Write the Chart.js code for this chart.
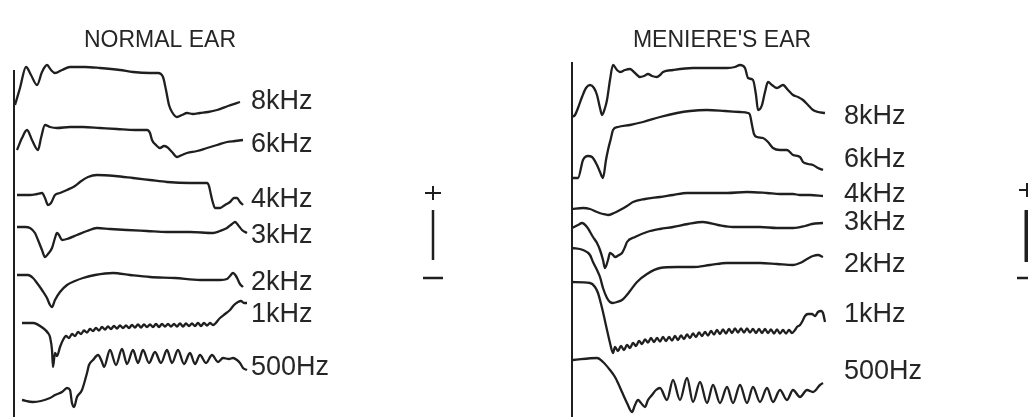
<!DOCTYPE html>
<html>
<head>
<meta charset="utf-8">
<script src="https://cdn.jsdelivr.net/npm/chart.js@4.4.1/dist/chart.umd.min.js"></script>
<style>
  html, body { margin: 0; padding: 0; background: #fff; }
  #wrap { position: relative; width: 1028px; height: 417px; overflow: hidden; }
  canvas { position: absolute; top: 0; }
</style>
</head>
<body>
<div id="wrap">
  <canvas id="normalChart" width="558" height="417" style="left:0"></canvas>
  <canvas id="meniereChart" width="470" height="417" style="left:558px"></canvas>
</div>
<script>
const freqLabels = ['8kHz', '6kHz', '4kHz', '3kHz', '2kHz', '1kHz', '500Hz'];

// each trace: [time (samples after onset), amplitude (+ up)]
const normal8k = [[1,0],[6,17],[12,38],[17,30],[23,20],[28,33],[33,40],[37,35],[41,32],[48,35],[56,38],[71,38],[86,37],[106,35],[119,33],[136,32],[144,32],[149,28],[152,15],[155,0],[158,-7],[163,-12],[168,-10],[173,-8],[179,-9],[186,-8],[194,-7],[203,-5],[214,-1],[226,3]];
const normal6k = [[3,0],[8,12],[13,20],[18,10],[24,0],[27,12],[31,25],[36,23],[43,22],[56,23],[69,23],[86,22],[103,21],[121,20],[133,20],[136,17],[138,10],[142,5],[146,2],[150,4],[153,3],[158,-2],[163,-7],[168,-5],[173,-3],[183,-1],[193,2],[203,5],[213,8],[221,9],[229,10]];
const normal4k = [[3,0],[16,0],[23,1],[28,2],[31,-3],[34,-10],[37,-8],[41,0],[46,2],[53,5],[61,9],[66,13],[74,18],[83,20],[101,19],[119,17],[136,15],[153,13],[176,12],[193,12],[195,9],[197,0],[199,-8],[201,-13],[206,-13],[211,-10],[216,-7],[220,-3],[223,-3],[226,-7],[229,-10]];
const normal3k = [[3,0],[11,0],[16,-1],[21,-6],[24,-13],[28,-23],[31,-30],[34,-27],[38,-21],[41,-11],[43,-6],[45,-8],[48,-13],[53,-12],[63,-8],[73,-4],[83,-1],[96,-2],[113,-3],[133,-4],[153,-5],[176,-5],[199,-6],[206,-4],[213,-1],[218,3],[221,5],[224,2],[228,-3],[233,-6]];
const normal2k = [[3,0],[14,0],[19,-3],[23,-8],[28,-15],[33,-23],[36,-30],[38,-32],[41,-25],[46,-17],[53,-10],[61,-6],[69,-3],[81,0],[99,2],[116,0],[136,-2],[161,-3],[186,-5],[206,-5],[213,-4],[216,-1],[219,2],[222,-1],[224,-5],[226,-9],[229,-12]];
const normal1k = [[8,0],[19,0],[29,-5],[34,-10],[36,-14],[38,-27],[39,-44],[41,-30],[43,-33],[46,-24],
  [49,-17],[52,-13],[55,-15],[58,-11],[61,-13],[64,-9],[67,-11],[70,-7.5],[73,-9.5],[76,-6],[79,-8],[82,-5],[85,-7.5],[88,-4],[91,-6.5],[94,-3.5],[97,-6],[100,-3],[103,-5.5],[106,-2.5],[109,-5],[112,-2.5],[115,-5],[118,-2],[121,-4.5],[124,-1.5],[127,-4.5],[130,-1.5],[133,-4],[136,-1.5],[139,-4],[142,-1],[145,-4],[148,-1],[151,-3.5],[154,-1],[157,-3.5],[160,-1],[163,-3.5],[166,-0.5],[169,-3.5],[172,-0.5],[175,-3],[178,-0.5],[181,-3],[184,0],[187,-3],[190,0],[193,-2.5],[196,0],[199,-2],
  [206,5],[211,9],[216,13],[220,18],[224,21],[227,22],[230,20],[233,20]];
const normal500 = [[8,0],[19,-2],[36,2],[41,5],[48,8],[53,12],[56,10],[58,-3],[60,-7],[63,3],[68,10],[73,27],[75,35],[79,40],[84,45],[88,38],
  [90,33],[96,50],[102,35],[108,51],[113,36],[119,50],[124,37],[129,50],[135,37],[141,48],[147,37],[153,50],[158,37],[164,50],[170,36],[176,47],[181,36],[186,45],[192,37],[198,45],[204,38],[209,42],
  [215,41],[219,42],[223,40],[226,37],[229,32],[233,30]];

const meniere8k = [[0,0],[3,2],[6,9],[10,20],[14,29],[18,32],[22,29],[25,22],[28,9],[30,2],[33,9],[35,17],[38,37],[41,52],[45,47],[48,45],[53,47],[58,48],[63,44],[68,40],[72,41],[76,43],[80,41],[85,40],[88,42],[91,45],[101,47],[121,49],[138,49],[155,49],[163,50],[168,52],[173,49],[176,39],[181,37],[184,22],[186,7],[188,8],[190,12],[193,25],[196,35],[200,32],[205,29],[211,32],[216,27],[221,22],[226,20],[231,17],[236,12],[241,7],[246,5],[253,4]];
const meniere6k = [[0,0],[6,0],[11,18],[16,22],[20,21],[25,13],[28,6],[31,0],[34,18],[36,28],[39,40],[41,48],[46,51],[58,53],[71,56],[88,61],[105,65],[118,67],[135,68],[153,67],[168,66],[176,65],[178,63],[180,53],[182,44],[185,41],[191,40],[196,36],[201,30],[208,28],[215,28],[221,23],[228,21],[231,16],[236,14],[241,13],[246,10],[251,8]];
const meniere4k = [[0,0],[11,1],[18,0],[25,-3],[31,-5],[36,-6],[42,-4],[48,-1],[55,3],[61,7],[73,10],[88,12],[101,14],[115,16],[135,16],[155,16],[175,17],[195,16],[208,15],[221,15],[228,14],[238,14],[251,13]];
const meniere3k = [[0,0],[6,3],[10,5],[15,1],[21,-9],[25,-15],[28,-22],[31,-32],[33,-40],[36,-32],[38,-25],[41,-27],[43,-29],[47,-27],[50,-25],[53,-19],[55,-14],[63,-9],[75,-4],[88,-1],[101,1],[116,4],[131,6],[146,3],[161,1],[176,1],[188,1],[205,0],[221,0],[233,2],[240,4],[251,5]];
const meniere2k = [[0,0],[11,-2],[18,-7],[21,-14],[25,-22],[28,-29],[31,-40],[35,-50],[38,-54],[41,-55],[45,-54],[50,-52],[54,-48],[58,-43],[65,-34],[75,-26],[88,-20],[105,-19],[121,-19],[138,-17],[155,-15],[171,-15],[188,-15],[205,-16],[221,-17],[228,-15],[235,-11],[241,-8],[246,-7],[251,-9]];
const meniere1k = [[0,1],[18,0],[23,-4],[26,-10],[28,-17],[31,-29],[35,-47],[38,-60],[41,-70],[43,-64],
  [46,-68],[49,-63],[52,-67],[55,-62],[58,-65],[61,-60],[64,-63],[67,-58],[70,-61],[73,-56.5],[76,-59.5],[79,-55],[82,-59],[85,-55],[88,-58.5],[91,-54],[94,-58],[97,-54],[100,-57.5],[103,-53],[106,-57],[109,-52.5],[112,-56],[115,-51.5],[118,-55],[121,-50.5],[124,-54],[127,-49.5],[130,-53],[133,-49],[136,-52.5],[139,-48],[142,-51.5],[145,-47],[148,-51],[151,-46.5],[154,-50.5],[157,-46],[160,-50],[163,-45.5],[166,-49.5],[169,-45.5],[172,-49.5],[175,-45.5],[178,-49.5],[181,-46],[184,-50],[187,-46],[190,-50],[193,-46],[196,-50],[199,-46.5],[202,-50.5],[205,-46.5],[208,-50.5],[211,-47],[214,-50.5],[217,-47],[220,-50],[223,-47],
  [225,-44],[228,-42],[231,-37],[233,-33],[236,-31],[240,-31],[243,-33],[246,-29],[249,-28],[251,-30],[253,-39]];
const meniere500 = [[1,0],[25,2],[31,-2],[38,-10],[43,-17],[46,-23],[50,-32],[55,-43],[60,-52],[63,-45],[66,-40],[69,-43],[73,-47],[76,-40],[80,-35],[84,-30],[88,-28],
  [95,-40],[101,-20],[108,-40],[115,-18],[121,-42],[128,-22],[135,-43],[141,-25],[148,-43],[155,-27],[161,-43],[168,-25],[175,-43],[181,-27],[188,-42],[195,-28],[201,-42],[208,-30],[215,-40],[221,-30],[228,-37],[235,-30],[241,-32],[248,-25],[251,-23]];

const normalTraces = [normal8k, normal6k, normal4k, normal3k, normal2k, normal1k, normal500];
const meniereTraces = [meniere8k, meniere6k, meniere4k, meniere3k, meniere2k, meniere1k, meniere500];

// page layout for each panel (pixels)
const normalLayout = {
  title: 'NORMAL EAR', titleX: 160, titleY: 47,
  top: 70, width: 558, rows: [105, 150, 195, 227, 275, 323, 400],
  labelX: 251, labelY: [102, 145, 200, 236, 283, 315, 368],
  bar: { x: 433, plusY: 193, top: 210, bottom: 260, minusY: 278, width: 2.5 }
};
const meniereLayout = {
  title: "MENIERE'S EAR", titleX: 164, titleY: 47,
  top: 62, width: 470, rows: [117, 178, 209, 228, 248, 283, 360],
  labelX: 286, labelY: [117, 160, 195, 223, 265, 315, 372],
  bar: { x: 469, plusY: 190, top: 210, bottom: 262, minusY: 278, width: 5 }
};

const ink = '#1f1f1f';

function decorPlugin(lay) {
  return {
    id: 'ecogDecor',
    afterDraw(chart) {
      const ctx = chart.ctx, area = chart.chartArea;
      ctx.save();
      ctx.strokeStyle = ink;
      ctx.fillStyle = '#262626';
      ctx.lineCap = 'butt';
      // recording baseline axis
      ctx.lineWidth = 2;
      ctx.beginPath();
      ctx.moveTo(area.left, area.top);
      ctx.lineTo(area.left, area.bottom);
      ctx.stroke();
      // panel title
      ctx.font = '23px "Liberation Sans", Arial, sans-serif';
      ctx.textAlign = 'center';
      ctx.textBaseline = 'alphabetic';
      ctx.fillText(lay.title, lay.titleX, lay.titleY);
      // frequency labels
      ctx.font = '27px "Liberation Sans", Arial, sans-serif';
      ctx.textAlign = 'left';
      ctx.textBaseline = 'middle';
      freqLabels.forEach((lab, i) => ctx.fillText(lab, lay.labelX, lay.labelY[i]));
      // polarity / calibration bar
      const b = lay.bar;
      ctx.lineWidth = 2;
      ctx.beginPath();
      ctx.moveTo(b.x - 8, b.plusY); ctx.lineTo(b.x + 8, b.plusY);
      ctx.moveTo(b.x, b.plusY - 7); ctx.lineTo(b.x, b.plusY + 7);
      ctx.stroke();
      ctx.lineWidth = b.width;
      ctx.beginPath();
      ctx.moveTo(b.x, b.top); ctx.lineTo(b.x, b.bottom);
      ctx.stroke();
      ctx.lineWidth = 2.5;
      ctx.beginPath();
      ctx.moveTo(b.x - 10, b.minusY); ctx.lineTo(b.x + 10, b.minusY);
      ctx.stroke();
      ctx.restore();
    }
  };
}

function makeChart(id, traces, lay) {
  const datasets = traces.map((tr, i) => ({
    label: freqLabels[i],
    data: tr.map(([t, a]) => ({ x: t, y: lay.rows[i] - a })),
    borderColor: ink,
    borderWidth: 2.3,
    pointRadius: 0,
    cubicInterpolationMode: 'monotone',
    fill: false,
    clip: false,
    borderJoinStyle: 'round'
  }));
  return new Chart(document.getElementById(id).getContext('2d'), {
    type: 'line',
    data: { datasets },
    options: {
      responsive: false,
      animation: false,
      devicePixelRatio: 1,
      layout: { padding: { left: 14, top: lay.top, right: 0, bottom: 0 } },
      plugins: { legend: { display: false }, title: { display: false }, tooltip: { enabled: false } },
      scales: {
        x: { type: 'linear', display: false, min: 0, max: lay.width - 14 },
        y: { type: 'linear', display: false, reverse: true, min: lay.top, max: 417 }
      }
    },
    plugins: [decorPlugin(lay)]
  });
}

makeChart('normalChart', normalTraces, normalLayout);
makeChart('meniereChart', meniereTraces, meniereLayout);
</script>
</body>
</html>
